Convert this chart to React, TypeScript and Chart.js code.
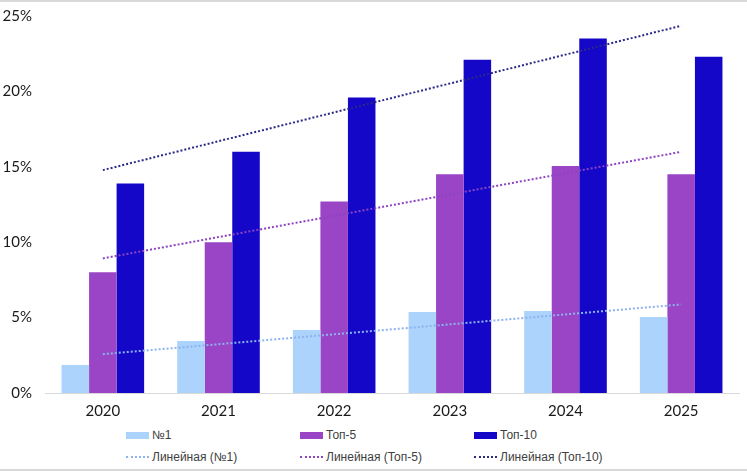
import React, { useEffect, useRef } from "react";
import { Chart, registerables } from "chart.js";

Chart.register(...registerables);

const categories = ["2020", "2021", "2022", "2023", "2024", "2025"];
const no1 = [1.86, 3.45, 4.18, 5.37, 5.44, 5.04];
const top5 = [8.0, 10.0, 12.7, 14.5, 15.05, 14.5];
const top10 = [13.9, 16.0, 19.6, 22.1, 23.5, 22.3];
const yTicks = [0, 5, 10, 15, 20, 25];

const seriesNames = ["№1", "Топ-5", "Топ-10"];
const trendNames = ["Линейная (№1)", "Линейная (Топ-5)", "Линейная (Топ-10)"];

const barColors = ["#acd3fb", "#9a44c6", "#1407c8"];
const trendColors = ["#8db3ee", "#8c44c2", "#2c2a86"];

function linearTrend(values: number[]): number[] {
  const n = values.length;
  const mx = (n - 1) / 2;
  const my = values.reduce((a, b) => a + b, 0) / n;
  let num = 0;
  let den = 0;
  values.forEach((v, i) => {
    num += (i - mx) * (v - my);
    den += (i - mx) * (i - mx);
  });
  const slope = num / den;
  return values.map((_, i) => my + slope * (i - mx));
}

export default function App() {
  const ref = useRef<HTMLCanvasElement | null>(null);

  useEffect(() => {
    if (!ref.current) return;
    const all = [no1, top5, top10];
    const chart = new Chart(ref.current, {
      type: "bar",
      data: {
        labels: categories,
        datasets: [
          ...all.map((d, i) => ({
            type: "line" as const,
            label: trendNames[i],
            data: linearTrend(d),
            borderColor: trendColors[i],
            borderWidth: 2,
            borderDash: [2, 2],
            pointRadius: 0,
            fill: false,
            order: 0,
          })),
          ...all.map((d, i) => ({
            type: "bar" as const,
            label: seriesNames[i],
            data: d,
            backgroundColor: barColors[i],
            borderWidth: 0,
            categoryPercentage: 0.714,
            barPercentage: 1,
            order: 1,
          })),
        ],
      },
      options: {
        animation: false,
        responsive: false,
        layout: { padding: { top: 16, right: 8, left: 0, bottom: 0 } },
        plugins: { legend: { display: false }, tooltip: { enabled: false } },
        scales: {
          x: {
            grid: { display: false, drawTicks: false },
            border: { display: true, color: "#d9d9d9", width: 1 },
            ticks: {
              color: "#1a1a1a",
              font: { family: "Lato", size: 15 },
              padding: 9,
            },
            afterFit: (s: any) => {
              s.height = 27;
              s.paddingLeft = 0;
              s.paddingRight = 0;
            },
          },
          y: {
            min: 0,
            max: 25,
            grid: { display: false, drawTicks: false },
            border: { display: false },
            afterBuildTicks: (s: any) => {
              s.ticks = yTicks.map((v) => ({ value: v }));
            },
            ticks: {
              color: "#1a1a1a",
              font: { family: "Lato", size: 15 },
              padding: 13,
              callback: (v: any) => `${v}%`,
            },
            afterFit: (s: any) => {
              s.width = 45;
              s.paddingTop = 0;
              s.paddingBottom = 0;
            },
          },
        },
      },
    });
    return () => chart.destroy();
  }, []);

  const legendCols = [126, 300, 474];
  const textStyle: React.CSSProperties = {
    position: "absolute",
    fontFamily: "Liberation Sans, Arial, sans-serif",
    fontSize: 12,
    color: "#404040",
    whiteSpace: "nowrap",
    lineHeight: "16px",
  };

  return (
    <div
      style={{
        position: "fixed",
        left: 0,
        top: 0,
        width: 747,
        height: 472,
        background: "#fff",
        overflow: "hidden",
      }}
    >
      <div style={{ position: "absolute", left: 0, top: 0, width: 747, height: 2, background: "#d9d9d9" }} />
      <canvas ref={ref} width={747} height={420} style={{ position: "absolute", left: 0, top: 0, width: 747, height: 420 }} />
      {seriesNames.map((name, i) => (
        <React.Fragment key={name}>
          <div
            style={{
              position: "absolute",
              left: legendCols[i],
              top: 432,
              width: 23,
              height: 7,
              background: barColors[i],
            }}
          />
          <div style={{ ...textStyle, left: legendCols[i] + 26, top: 427 }}>{name}</div>
        </React.Fragment>
      ))}
      {trendNames.map((name, i) => (
        <React.Fragment key={name}>
          <div
            style={{
              position: "absolute",
              left: legendCols[i],
              top: 456,
              width: 23,
              height: 0,
              borderTop: `2px dotted ${trendColors[i]}`,
            }}
          />
          <div style={{ ...textStyle, left: legendCols[i] + 26, top: 449 }}>{name}</div>
        </React.Fragment>
      ))}
      <div style={{ position: "absolute", left: 0, top: 469, width: 747, height: 2, background: "#d9d9d9" }} />
    </div>
  );
}
